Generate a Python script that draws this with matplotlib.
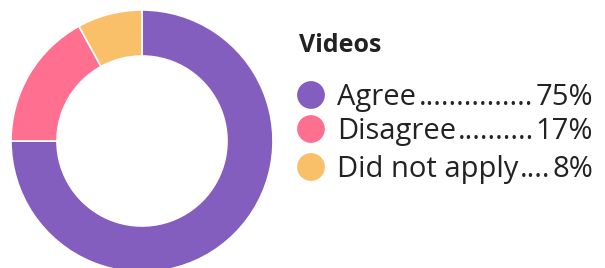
import matplotlib
matplotlib.use("Agg")
import matplotlib.pyplot as plt

# data
title = "Videos"
labels = ["Agree", "Disagree", "Did not apply"]
values = [75, 17, 8]
colors = ["#835EBE", "#FF6F8F", "#F9BF69"]

W, H = 605, 268
fig = plt.figure(figsize=(W / 100, H / 100), dpi=100)
ax = fig.add_axes([0, 0, 1, 1])

# donut (axes coords = pixels, y measured from bottom)
ax.pie(values, colors=colors, startangle=90, counterclock=False,
       center=(142, H - 141), radius=131,
       wedgeprops=dict(width=46, edgecolor="white", linewidth=1.2))
ax.set_xlim(0, W)
ax.set_ylim(0, H)
ax.set_aspect("equal")
ax.axis("off")

font = "Open Sans"
fs = 21
ax.text(299, H - 52, title, fontsize=18, fontweight="bold", family=font,
        color="#222222", ha="left", va="baseline")

fig.canvas.draw()
renderer = fig.canvas.get_renderer()
x_lab, x_pct = 337, 593
baselines = [105, 139, 177]
probe = ax.text(0, 0, "." * 20, fontsize=fs, family=font)
dot_w = probe.get_window_extent(renderer).width / 20
probe.remove()
for lab, v, c, yb in zip(labels, values, colors, baselines):
    y = H - yb
    ax.scatter([311], [y + 10], s=400, color=c, edgecolors="none")
    t1 = ax.text(x_lab, y, lab, fontsize=fs, family=font, color="#222222",
                 ha="left", va="baseline")
    t2 = ax.text(x_pct, y, f"{v}%", fontsize=fs, family=font, color="#222222",
                 ha="right", va="baseline")
    # fill the gap with leader dots
    b1 = t1.get_window_extent(renderer)
    b2 = t2.get_window_extent(renderer)
    gap = b2.x0 - b1.x1
    n = max(int(gap / dot_w), 1)
    ax.text((b1.x1 + b2.x0) / 2, y, "." * n, fontsize=fs, family=font,
            color="#222222", ha="center", va="baseline")

fig.savefig("out.png", dpi=100)
